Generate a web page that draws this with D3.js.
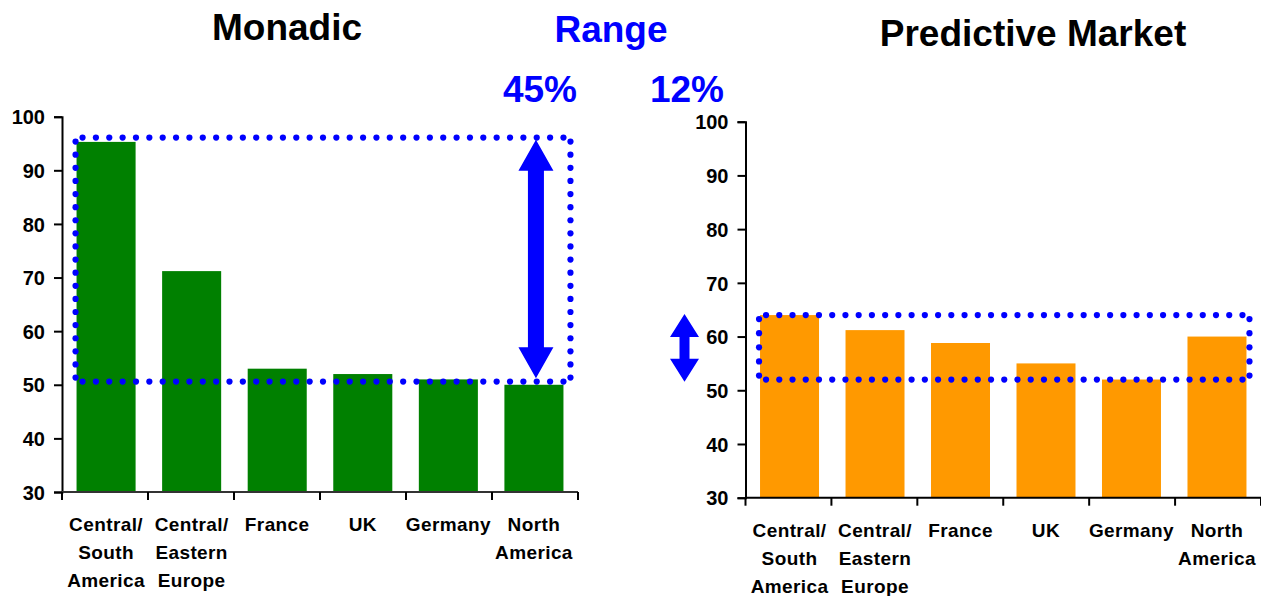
<!DOCTYPE html>
<html>
<head>
<meta charset="utf-8">
<script src="https://cdn.jsdelivr.net/npm/d3@7"></script>
<style>
  html, body { margin: 0; padding: 0; background: #fff; }
  svg { display: block; font-family: "Liberation Sans", Arial, sans-serif; font-weight: bold; }
</style>
</head>
<body>
<svg id="chart" width="1261" height="596"></svg>
<script>
// Regions shown on both panels
const regions = [
  ["Central/", "South", "America"],
  ["Central/", "Eastern", "Europe"],
  ["France"],
  ["UK"],
  ["Germany"],
  ["North", "America"]
];

// Scores per region
const monadicValues    = [95.3, 71.2, 53.0, 52.0, 51.0, 50.0];
const predictiveValues = [64.0, 61.2, 58.8, 55.0, 52.0, 60.0];

// Axis ticks
const yTicks = [30, 40, 50, 60, 70, 80, 90, 100];
const yDomain = [30, 100];

// Range highlight (value span of the dotted box and the arrow)
const monadicBox    = [50.6, 96.1];
const monadicArrow  = [51.2, 95.7];
const predictiveBox   = [52.0, 64.0];
const predictiveArrow = [51.6, 64.2];

// Titles and range labels
const titles = ["Monadic", "Range", "Predictive Market"];
const rangeLabels = ["45%", "12%"];

const svg = d3.select("#chart");
const BLUE = "#0000ff";
const DOT_GAP = 13.3;

// evenly spaced dot centres along a segment
function dotsAlong(x0, y0, x1, y1) {
  const len = Math.hypot(x1 - x0, y1 - y0);
  const n = Math.max(1, Math.round(len / DOT_GAP));
  return d3.range(n + 1).map(k => [x0 + (x1 - x0) * k / n, y0 + (y1 - y0) * k / n]);
}

function drawPanel(opt) {
  const x = d3.scaleBand()
    .domain(d3.range(regions.length))
    .range([opt.left, opt.right])
    .paddingInner(0.31)
    .paddingOuter(0.17);
  const y = d3.scaleLinear().domain(yDomain).range([opt.bottom, opt.top]);
  const g = svg.append("g");

  // bars
  g.selectAll("rect.bar")
    .data(opt.values)
    .join("rect")
    .attr("class", "bar")
    .attr("x", (d, i) => x(i))
    .attr("width", x.bandwidth())
    .attr("y", d => y(d))
    .attr("height", d => y(yDomain[0]) - y(d))
    .attr("fill", opt.color);

  // y axis
  const yAxis = g.append("g")
    .attr("transform", `translate(${opt.left},0)`)
    .call(d3.axisLeft(y).tickValues(yTicks).tickSize(8).tickPadding(9));
  yAxis.attr("font-size", 20).attr("font-family", "Liberation Sans, Arial, sans-serif").attr("font-weight", "bold");
  yAxis.select(".domain").attr("stroke", "#000").attr("stroke-width", 2);
  yAxis.selectAll(".tick line").attr("stroke", "#000").attr("stroke-width", 2);
  yAxis.selectAll(".tick text")
    .attr("font-size", 20)
    .attr("fill", "#000").attr("dy", "0.36em");

  // x axis: ticks between categories
  const step = (opt.right - opt.left) / regions.length;
  const xb = d3.range(regions.length + 1).map(i => opt.left + i * step);
  g.append("line")
    .attr("x1", opt.left).attr("x2", opt.right)
    .attr("y1", y(yDomain[0])).attr("y2", y(yDomain[0]))
    .attr("stroke", opt.axisColor).attr("stroke-width", 2);
  g.selectAll("line.xt")
    .data(xb)
    .join("line")
    .attr("class", "xt")
    .attr("x1", d => d).attr("x2", d => d)
    .attr("y1", y(yDomain[0])).attr("y2", y(yDomain[0]) + 8)
    .attr("stroke", "#000").attr("stroke-width", 2);

  // category labels
  const lab = g.selectAll("text.cat")
    .data(regions)
    .join("text")
    .attr("class", "cat")
    .attr("text-anchor", "middle")
    .attr("font-size", 19)
    .attr("letter-spacing", 0.4)
    .attr("fill", "#000");
  lab.each(function(lines, i) {
    d3.select(this).selectAll("tspan")
      .data(lines)
      .join("tspan")
      .attr("x", x(i) + x.bandwidth() / 2)
      .attr("y", (d, k) => opt.labelY + k * 28)
      .text(d => d);
  });

  // dotted range box
  const bx0 = x(0) - 1;
  const bx1 = x(regions.length - 1) + x.bandwidth() + opt.boxPad;
  const by0 = y(opt.box[1]);
  const by1 = y(opt.box[0]);
  const dots = [].concat(
    dotsAlong(bx0 + 7, by0, bx1 - 7, by0),
    dotsAlong(bx0 + 7, by1, bx1 - 7, by1),
    dotsAlong(bx0, by0 + 4, bx0, by1 - 4),
    dotsAlong(bx1, by0 + 4, bx1, by1 - 4)
  );
  g.selectAll("circle.dot")
    .data(dots)
    .join("circle")
    .attr("class", "dot")
    .attr("cx", d => d[0])
    .attr("cy", d => d[1])
    .attr("r", 3.1)
    .attr("fill", BLUE);

  // double-headed arrow
  const ax = opt.arrowX(x);
  const t = y(opt.arrow[1]), b = y(opt.arrow[0]);
  const hw = opt.headW / 2, sw = opt.shaftW / 2, hl = opt.headL;
  const p = d3.path();
  p.moveTo(ax, t);
  p.lineTo(ax + hw, t + hl);
  p.lineTo(ax + sw, t + hl);
  p.lineTo(ax + sw, b - hl);
  p.lineTo(ax + hw, b - hl);
  p.lineTo(ax, b);
  p.lineTo(ax - hw, b - hl);
  p.lineTo(ax - sw, b - hl);
  p.lineTo(ax - sw, t + hl);
  p.lineTo(ax - hw, t + hl);
  p.closePath();
  g.append("path").attr("d", p.toString()).attr("fill", BLUE);
}

drawPanel({
  left: 62, right: 578, top: 116.7, bottom: 492,
  values: monadicValues, color: "#008000", axisColor: "#333",
  labelY: 531, box: monadicBox, boxPad: 7,
  arrow: monadicArrow,
  arrowX: x => x(regions.length - 1) + x.bandwidth() / 2 + 2,
  headW: 35, shaftW: 16, headL: 31
});

drawPanel({
  left: 745.5, right: 1261, top: 121.7, bottom: 497.7,
  values: predictiveValues, color: "#ff9900", axisColor: "#000",
  labelY: 537, box: predictiveBox, boxPad: 3,
  arrow: predictiveArrow,
  arrowX: () => 684.5,
  headW: 29, shaftW: 10, headL: 23
});

// titles
const titlePos = [[287, 40, "#000"], [611, 42, BLUE], [1033, 46, "#000"]];
svg.selectAll("text.title")
  .data(titles)
  .join("text")
  .attr("class", "title")
  .attr("x", (d, i) => titlePos[i][0])
  .attr("y", (d, i) => titlePos[i][1])
  .attr("text-anchor", "middle")
  .attr("font-size", 37)
  .attr("fill", (d, i) => titlePos[i][2])
  .text(d => d);

const rangePos = [[540, 102], [687, 102]];
svg.selectAll("text.range")
  .data(rangeLabels)
  .join("text")
  .attr("class", "range")
  .attr("x", (d, i) => rangePos[i][0])
  .attr("y", (d, i) => rangePos[i][1])
  .attr("text-anchor", "middle")
  .attr("font-size", 37)
  .attr("fill", BLUE)
  .text(d => d);
</script>
</body>
</html>
